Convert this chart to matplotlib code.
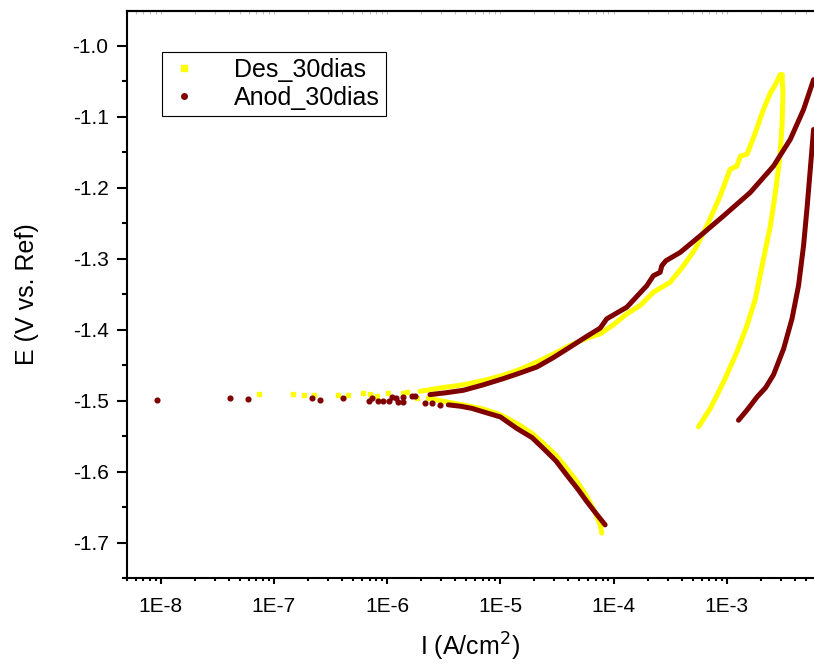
import numpy as np
import matplotlib
matplotlib.use("Agg")
import matplotlib.pyplot as plt
from matplotlib.lines import Line2D
from matplotlib.ticker import FixedLocator, FuncFormatter, LogLocator, MultipleLocator

plt.rcParams["font.family"] = ["Liberation Sans", "DejaVu Sans"]

# Des_30dias (yellow), current in A/cm2, potential in V
des_scatter_i = [7.36e-8, 1.47e-7, 1.85e-7, 2.26e-7, 3.70e-7, 4.48e-7, 6.15e-7, 7.05e-7,
                 8.18e-7, 1.01e-6, 1.39e-6, 1.50e-6, 1.85e-6, 2.30e-6]
des_scatter_e = [-1.4911, -1.4911, -1.4916, -1.492, -1.4925, -1.4925, -1.490, -1.4911,
                 -1.494, -1.4897, -1.4888, -1.488, -1.497, -1.496]

des_cath_i = [2.51e-6, 3.59e-6, 5.0e-6, 7.08e-6, 1.0e-5, 1.40e-5, 1.9e-5, 2.40e-5, 3.1e-5,
              3.86e-5, 4.8e-5, 5.81e-5, 6.8e-5, 7.62e-5, 7.87e-5]
des_cath_e = [-1.498, -1.5028, -1.507, -1.512, -1.520, -1.5323, -1.546, -1.5604, -1.577,
              -1.5955, -1.615, -1.6353, -1.656, -1.675, -1.6868]

des_anod_i = [1.95e-6, 3.0e-6, 4.41e-6, 7.0e-6, 1.06e-5, 1.5e-5, 2.10e-5, 2.9e-5, 4.13e-5,
              5.6e-5, 7.62e-5, 1.0e-4, 1.31e-4, 1.72e-4, 2.25e-4, 3.16e-4, 4.15e-4,
              5.26e-4, 6.68e-4, 8.75e-4, 1.07e-3, 1.23e-3, 1.32e-3, 1.51e-3, 1.79e-3,
              2.11e-3, 2.43e-3, 2.69e-3, 2.97e-3, 3.08e-3]
des_anod_e = [-1.487, -1.482, -1.4785, -1.472, -1.4644, -1.456, -1.4457, -1.435, -1.4223,
              -1.413, -1.4059, -1.393, -1.3778, -1.366, -1.3473, -1.3333, -1.310,
              -1.2865, -1.2538, -1.2117, -1.1742, -1.1695, -1.1555, -1.153, -1.1226,
              -1.0899, -1.0665, -1.0548, -1.0407, -1.0407]

des_rev_i = [3.08e-3, 3.14e-3, 3.08e-3, 2.93e-3, 2.69e-3, 2.43e-3, 2.11e-3, 1.79e-3,
             1.51e-3, 1.23e-3, 9.38e-4, 7.14e-4, 5.63e-4]
des_rev_e = [-1.0407, -1.0665, -1.113, -1.160, -1.2069, -1.2538, -1.3006, -1.3567,
             -1.3942, -1.4316, -1.4737, -1.5112, -1.537]

# Anod_30dias (dark red)
anod_scatter_i = [9.35e-9, 4.07e-8, 5.85e-8, 2.18e-7, 2.53e-7, 4.09e-7, 6.95e-7, 7.29e-7,
                  8.34e-7, 9.24e-7, 1.04e-6, 1.10e-6, 1.20e-6, 1.25e-6, 1.39e-6, 1.39e-6,
                  1.65e-6, 1.76e-6, 2.17e-6, 2.47e-6, 2.93e-6]
anod_scatter_e = [-1.4986, -1.497, -1.4976, -1.497, -1.4996, -1.496, -1.500, -1.497,
                  -1.5004, -1.5004, -1.5004, -1.4953, -1.496, -1.502, -1.4949, -1.502,
                  -1.494, -1.494, -1.5033, -1.5033, -1.5056]

anod_cath_i = [3.47e-6, 4.47e-6, 5.62e-6, 7.08e-6, 1.0e-5, 1.40e-5, 1.9e-5, 2.40e-5,
               3.1e-5, 3.86e-5, 4.8e-5, 5.81e-5, 7.0e-5, 8.43e-5]
anod_cath_e = [-1.506, -1.508, -1.511, -1.5159, -1.523, -1.5393, -1.552, -1.5674,
               -1.585, -1.6049, -1.624, -1.6423, -1.659, -1.6751]

anod_anod_i = [2.39e-6, 3.3e-6, 4.71e-6, 7.0e-6, 1.06e-5, 1.5e-5, 2.10e-5, 2.9e-5,
               4.13e-5, 5.6e-5, 7.62e-5, 8.71e-5, 1.31e-4, 1.97e-4, 2.25e-4, 2.58e-4,
               2.67e-4, 2.90e-4, 3.88e-4, 5.83e-4, 9.38e-4, 1.61e-3, 2.59e-3, 3.64e-3,
               4.77e-3, 5.85e-3]
anod_anod_e = [-1.4916, -1.489, -1.4855, -1.478, -1.4691, -1.461, -1.4527, -1.440,
               -1.4246, -1.411, -1.3979, -1.3848, -1.3684, -1.338, -1.324, -1.3193,
               -1.310, -1.303, -1.2912, -1.2678, -1.2397, -1.2069, -1.1695, -1.132,
               -1.0899, -1.0478]

anod_rev_i = [5.85e-3, 5.47e-3, 5.11e-3, 4.77e-3, 4.31e-3, 3.77e-3, 3.18e-3, 2.59e-3,
              2.2e-3, 1.85e-3, 1.5e-3, 1.27e-3]
anod_rev_e = [-1.118, -1.1742, -1.2303, -1.2818, -1.3378, -1.3848, -1.427, -1.4636,
              -1.482, -1.495, -1.514, -1.5277]

yellow = "#FFFF00"
brown = "#800000"

fig = plt.figure(figsize=(8.14, 6.64), dpi=100)
ax = fig.add_axes([0.1556, 0.1295, 0.8444, 0.854])

# yellow first, dark red on top
ax.plot(des_scatter_i, des_scatter_e, ls="none", marker="s", ms=3.2, color=yellow, mec=yellow)
for xs, ys in [(des_cath_i, des_cath_e), (des_anod_i, des_anod_e), (des_rev_i, des_rev_e)]:
    ax.plot(xs, ys, color=yellow, lw=3.6, solid_capstyle="round", solid_joinstyle="round")

ax.plot(anod_scatter_i, anod_scatter_e, ls="none", marker="o", ms=3.4, color=brown, mec=brown)
for xs, ys in [(anod_cath_i, anod_cath_e), (anod_anod_i, anod_anod_e), (anod_rev_i, anod_rev_e)]:
    ax.plot(xs, ys, color=brown, lw=3.6, solid_capstyle="round", solid_joinstyle="round")

ax.set_xscale("log")
ax.set_xlim(5.0e-9, 5.9e-3)
ax.set_ylim(-1.75, -0.951)

ax.xaxis.set_major_locator(FixedLocator([1e-8, 1e-7, 1e-6, 1e-5, 1e-4, 1e-3]))
ax.xaxis.set_major_formatter(FuncFormatter(lambda v, p: "1E%d" % int(round(np.log10(v)))))
ax.xaxis.set_minor_locator(LogLocator(base=10, subs=np.arange(2, 10), numticks=20))
ax.yaxis.set_major_locator(MultipleLocator(0.1))
ax.yaxis.set_minor_locator(MultipleLocator(0.05))
ax.yaxis.set_major_formatter(FuncFormatter(lambda v, p: "%.1f" % v))

for s in ["left", "bottom", "top"]:
    ax.spines[s].set_linewidth(1.5)
ax.spines["right"].set_visible(False)

ax.tick_params(which="both", direction="out", width=1.5, labelsize=15)
ax.tick_params(axis="y", which="major", length=7, pad=6)
ax.tick_params(axis="y", which="minor", length=3.6)
ax.tick_params(axis="x", which="major", length=4, pad=10)
ax.tick_params(axis="x", which="minor", length=2.4)

top = ax.secondary_xaxis("top")
top.xaxis.set_major_locator(FixedLocator([1e-8, 1e-7, 1e-6, 1e-5, 1e-4, 1e-3]))
top.xaxis.set_minor_locator(LogLocator(base=10, subs=np.arange(2, 10), numticks=20))
top.tick_params(which="both", direction="in", length=2, width=0.8, color="#c0c0c0", labeltop=False)
top.spines["top"].set_linewidth(1.5)

ax.set_xlabel("I (A/cm$^2$)", fontsize=18, labelpad=10)
ax.set_ylabel("E (V vs. Ref)", fontsize=18, labelpad=24)

handles = [
    Line2D([], [], ls="none", marker="s", ms=4, color=yellow, mec=yellow),
    Line2D([], [], ls="none", marker="o", ms=4, color=brown, mec=brown),
]
leg = ax.legend(handles, ["Des_30dias", "Anod_30dias"], loc="upper left",
                bbox_to_anchor=(0.0518, 0.928), borderaxespad=0, fontsize=18,
                fancybox=False, framealpha=1, edgecolor="black", handlelength=1.2,
                handletextpad=1.4, borderpad=0.25, labelspacing=0.15)
leg.get_frame().set_linewidth(0.8)

fig.savefig("out.png", dpi=100)
